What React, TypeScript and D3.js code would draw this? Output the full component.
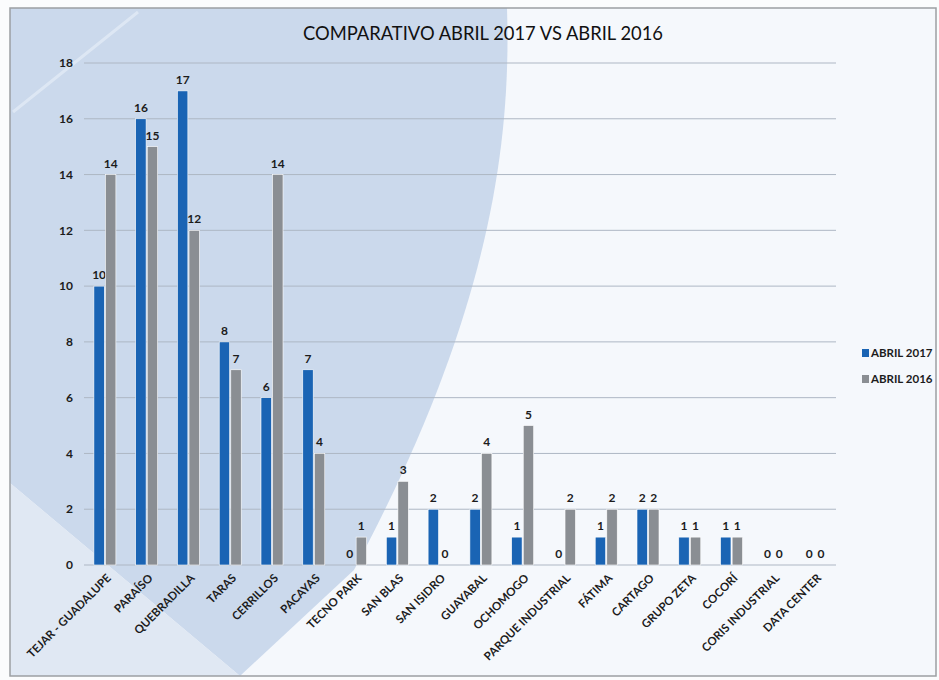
import React from "react";
import * as d3 from "d3";

const categories = [
  "TEJAR - GUADALUPE", "PARAÍSO", "QUEBRADILLA", "TARAS", "CERRILLOS", "PACAYAS",
  "TECNO PARK", "SAN BLAS", "SAN ISIDRO", "GUAYABAL", "OCHOMOGO", "PARQUE INDUSTRIAL",
  "FÁTIMA", "CARTAGO", "GRUPO ZETA", "COCORÍ", "CORIS INDUSTRIAL", "DATA CENTER",
];
const abril2017 = [10, 16, 17, 8, 6, 7, 0, 1, 2, 2, 1, 0, 1, 2, 1, 1, 0, 0];
const abril2016 = [14, 15, 12, 7, 14, 4, 1, 3, 0, 4, 5, 2, 2, 2, 1, 1, 0, 0];
const seriesNames = ["ABRIL 2017", "ABRIL 2016"];
const seriesColors = ["#1a64b4", "#8a8e93"];
const yTicks = [0, 2, 4, 6, 8, 10, 12, 14, 16, 18];
const title = "COMPARATIVO ABRIL 2017 VS ABRIL 2016";

const FONT = "Lato, 'Open Sans', sans-serif";

export default function App() {
  const x0 = d3.scaleBand<string>().domain(categories).range([84, 836]);
  const x1 = d3.scaleBand<string>().domain(seriesNames).range([-11, 11]).paddingInner(0.1);
  const y = d3.scaleLinear().domain([0, 18]).range([565, 63]);
  const data = [abril2017, abril2016];

  return (
    <svg width={939} height={680} style={{ position: "absolute", left: 0, top: 0 }}>
      <rect x={0} y={0} width={939} height={680} fill="#fbfcfd" />
      <rect x={10} y={8} width={926} height={668} fill="#f5f8fc" />
      {/* background swoosh */}
      <path d="M10,8 L507,8 C512,160 482,330 354,570 L240,676 L10,483 Z" fill="#cbd9ec" />
      <path d="M10,483 L240,676 L10,676 Z" fill="#e0e8f3" />
      <line x1={13} y1={112} x2={138} y2={12} stroke="#e6eef8" strokeWidth={3} opacity={0.7} />
      <rect x={10} y={8} width={926} height={668} fill="none" stroke="#9c9fa3" strokeWidth={1.5} />

      {/* gridlines */}
      {yTicks.map((t) => (
        <line key={t} x1={84} x2={836} y1={y(t)} y2={y(t)} stroke="#aeb7c4" strokeWidth={1} />
      ))}
      {/* y labels */}
      {yTicks.map((t) => (
        <text key={"l" + t} x={73} y={y(t)} dy="0.35em" textAnchor="end" fontFamily={FONT}
          fontWeight="bold" fontSize={12} fill="#1c1c1c">{t}</text>
      ))}

      {/* title */}
      <text x={483} y={40} textAnchor="middle" fontFamily={FONT} fontSize={19} fill="#111"
        textLength={360} lengthAdjust="spacingAndGlyphs">{title}</text>

      {/* bars */}
      {categories.map((c, i) => (
        <g key={c} transform={`translate(${x0(c)! + x0.bandwidth() / 2},0)`}>
          {seriesNames.map((s, j) => {
            const v = data[j][i];
            const bx = x1(s)!;
            return (
              <g key={s}>
                {v > 0 && (
                  <rect x={bx} y={y(v)} width={x1.bandwidth()} height={y(0) - y(v)}
                    fill={seriesColors[j]} stroke="#ffffff" strokeWidth={0.6} />
                )}
                <text x={bx + x1.bandwidth() / 2} y={y(v) - 7} textAnchor="middle"
                  fontFamily={FONT} fontWeight="bold" fontSize={12} fill="#1c1c1c">{v}</text>
              </g>
            );
          })}
          <text transform={`translate(4,576) rotate(-45)`} textAnchor="end" dy="0.35em"
            fontFamily={FONT} fontWeight="bold" fontSize={11.5} fill="#1c1c1c">{c}</text>
        </g>
      ))}

      {/* legend */}
      {seriesNames.map((s, j) => (
        <g key={s} transform={`translate(862,${349 + j * 26})`}>
          <rect x={0} y={0} width={7} height={8} fill={seriesColors[j]} />
          <text x={9} y={8} fontFamily={FONT} fontWeight="bold" fontSize={11.5} fill="#1c1c1c">{s}</text>
        </g>
      ))}
    </svg>
  );
}
